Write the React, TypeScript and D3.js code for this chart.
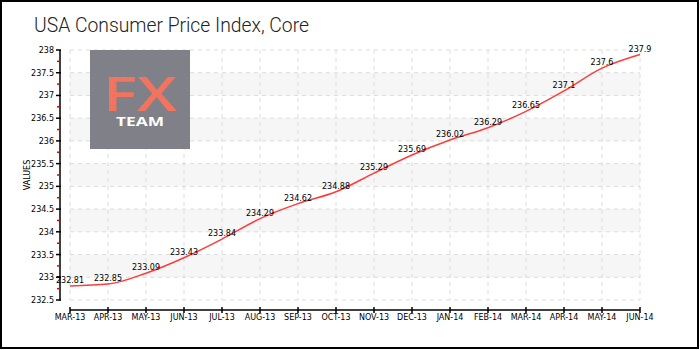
import React from "react";
import * as d3 from "d3";

const months = ["Mar-13","Apr-13","May-13","Jun-13","Jul-13","Aug-13","Sep-13","Oct-13","Nov-13","Dec-13","Jan-14","Feb-14","Mar-14","Apr-14","May-14","Jun-14"];
const values = [232.81,232.85,233.09,233.43,233.84,234.29,234.62,234.88,235.29,235.69,236.02,236.29,236.65,237.1,237.6,237.9];
const yTicks = [232.5,233,233.5,234,234.5,235,235.5,236,236.5,237,237.5,238];
const yMinor = [232.75,233.25,233.75,234.25,234.75,235.25,235.75,236.25,236.75,237.25,237.75];
const bandStarts = [233,234,235,236,237];
const title = "USA Consumer Price Index, Core";

export default function App() {
  const W = 700, H = 350;
  const x = d3.scalePoint<string>().domain(months).range([70, 640]);
  const y = d3.scaleLinear().domain([232.5, 238]).range([300, 50]);
  const line = d3.line<number>()
    .x((_, i) => x(months[i]) as number)
    .y((d) => y(d))
    .curve(d3.curveMonotoneX);
  const pixFont = "'DejaVu Sans', sans-serif";
  return (
    <svg width={W} height={H} style={{ position: "absolute", left: 0, top: 0, background: "#fff" }}>
      <rect x={1} y={1} width={697} height={347} fill="#fff" stroke="#000" strokeWidth={2} />
      <text x={34} y={32} fontFamily="Roboto, 'DejaVu Sans', sans-serif" fontSize={21} fontWeight={300} fill="#222" textLength={275} lengthAdjust="spacingAndGlyphs">{title}</text>
      {/* bands */}
      {bandStarts.map((b) => (
        <rect key={"b" + b} x={70} y={y(b + 0.5)} width={570} height={y(b) - y(b + 0.5)} fill="#f6f6f6" />
      ))}
      {/* grid */}
      {yTicks.map((t) => (
        <line key={"gy" + t} x1={70} x2={640} y1={y(t)} y2={y(t)} stroke="#dcdcdc" strokeDasharray="4,4" />
      ))}
      {months.map((m) => (
        <line key={"gx" + m} x1={x(m)} x2={x(m)} y1={50} y2={300} stroke="#dcdcdc" strokeDasharray="4,4" />
      ))}
      {/* logo */}
      <g opacity={0.97}>
        <rect x={90} y={50} width={100} height={99} fill="#7c7d85" />
        <text x={103} y={111} fontFamily="'Open Sans', Roboto, sans-serif" fontSize={47} fontWeight={600} fill="#f2705a" textLength={74} lengthAdjust="spacingAndGlyphs">FX</text>
        <text x={116} y={126} fontFamily="'Open Sans', Roboto, sans-serif" fontSize={12} fontWeight={700} fill="#fff" textLength={48} lengthAdjust="spacingAndGlyphs">TEAM</text>
      </g>
      {/* y axis */}
      <line x1={60} x2={60} y1={50} y2={300.5} stroke="#000" strokeWidth={1.5} />
      {yTicks.map((t) => (
        <g key={"yt" + t}>
          <line x1={56} x2={61} y1={y(t)} y2={y(t)} stroke="#000" strokeWidth={1.5} />
          <text x={54} y={y(t) + 3} textAnchor="end" fontFamily={pixFont} fontSize={8} fill="#000">{t}</text>
        </g>
      ))}
      {yMinor.map((t) => (
        <line key={"ym" + t} x1={57} x2={60} y1={y(t)} y2={y(t)} stroke="#e00000" strokeWidth={1.5} />
      ))}
      <text transform="translate(30,175) rotate(-90)" textAnchor="middle" fontFamily={pixFont} fontSize={8} fill="#000">VALUES</text>
      {/* x axis */}
      <line x1={70} x2={640} y1={310} y2={310} stroke="#000" strokeWidth={1.5} />
      {months.map((m) => (
        <g key={"xt" + m}>
          <line x1={x(m)} x2={x(m)} y1={307} y2={313} stroke="#000" strokeWidth={1.5} />
          <text x={x(m)} y={320} textAnchor="middle" fontFamily={pixFont} fontSize={8} fill="#000">{m.toUpperCase()}</text>
        </g>
      ))}
      {/* line */}
      <path d={line(values) || ""} fill="none" stroke="#ff3b3b" strokeWidth={1.5} />
      {values.map((v, i) => (
        <text key={"l" + i} x={x(months[i])} y={y(v) - 3} textAnchor="middle" fontFamily={pixFont} fontSize={8} fill="#000">{v}</text>
      ))}
    </svg>
  );
}
